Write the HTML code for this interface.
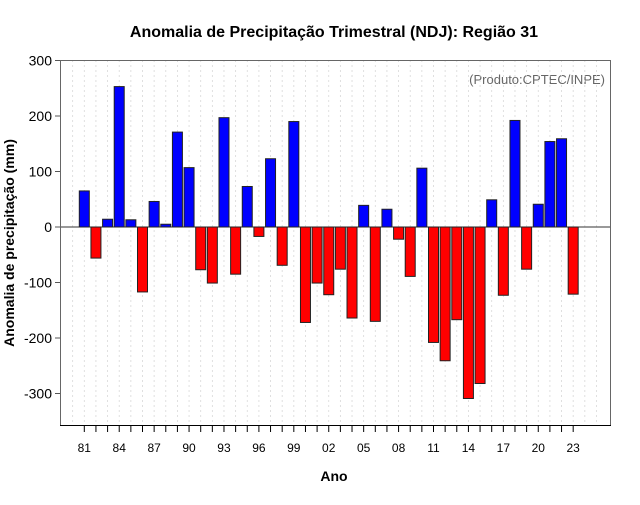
<!DOCTYPE html>
<html><head><meta charset="utf-8"><style>
body{margin:0;background:#fff;}
svg text{font-family:"Liberation Sans",sans-serif;}
</style></head><body>
<svg id="chart" width="640" height="500" xmlns="http://www.w3.org/2000/svg">
<rect width="640" height="500" fill="#fff"/>
<text x="334" y="37" text-anchor="middle" font-size="16" font-weight="bold">Anomalia de Precipitação Trimestral (NDJ): Região 31</text>
<text x="605" y="84" text-anchor="end" font-size="13" fill="#666">(Produto:CPTEC/INPE)</text>
<text x="334" y="481" text-anchor="middle" font-size="14" font-weight="bold">Ano</text>
<text transform="translate(14,243) rotate(-90)" text-anchor="middle" font-size="14" font-weight="bold">Anomalia de precipitação (mm)</text>
<g id="grid"></g><g id="bars"></g><g id="axes"></g>
<rect x="60.5" y="60.5" width="550" height="365" fill="none" stroke="#666" stroke-width="1"/>
<line x1="60" x2="611" y1="425.5" y2="425.5" stroke="#000"/>
</svg>
<script>
const years=[1981,1982,1983,1984,1985,1986,1987,1988,1989,1990,1991,1992,1993,1994,1995,1996,1997,1998,1999,2000,2001,2002,2003,2004,2005,2006,2007,2008,2009,2010,2011,2012,2013,2014,2015,2016,2017,2018,2019,2020,2021,2022,2023];
const anomalies=[65,-56,14,253,13,-117,46,5,171,107,-77,-101,197,-85,73,-17,123,-69,190,-172,-101,-122,-76,-164,39,-170,32,-22,-89,106,-208,-241,-167,-309,-282,49,-123,192,-76,41,154,159,-121];
const yTicks=[300,200,100,0,-100,-200,-300];
const xTickYears=[1981,1984,1987,1990,1993,1996,1999,2002,2005,2008,2011,2014,2017,2020,2023];
const NS="http://www.w3.org/2000/svg";
const X=y=>84.3+(y-1981)*11.64;
const Y=v=>227-v*0.555;
function mk(t,a,p){const e=document.createElementNS(NS,t);for(const k in a)e.setAttribute(k,a[k]);p.appendChild(e);return e;}
const grid=document.getElementById('grid'),bars=document.getElementById('bars'),axes=document.getElementById('axes');
for(let y=1980;y<=2025;y++){const x=X(y);if(x<=60||x>=610)continue;
 const l=mk('line',{x1:x,x2:x,y1:60,y2:425,stroke:'#d8d8d8','stroke-dasharray':'2,3','stroke-width':0.8},grid);
 
 }
const z=mk('line',{x1:60,x2:610,y1:Y(0),y2:Y(0),stroke:'#333','stroke-width':1},grid);


years.forEach((yr,i)=>{const v=anomalies[i];const top=Math.min(Y(v),Y(0));
 const r=mk('rect',{x:X(yr)-5,y:top,width:10,height:Math.abs(Y(v)-Y(0)),fill:v>=0?'#0000ff':'#ff0000',stroke:'#222','stroke-width':1},bars);
 
 });
yTicks.forEach(v=>{const y=Y(v);
 mk('line',{x1:55,x2:60,y1:y,y2:y,stroke:'#555'},axes);
 const t=mk('text',{x:52,y:y+5,'text-anchor':'end','font-size':14},axes);t.textContent=v;
 
 });
years.forEach(yr=>{const x=X(yr);
 mk('line',{x1:x,x2:x,y1:425,y2:432,stroke:'#000'},axes);});
xTickYears.forEach(yr=>{const x=X(yr);
 const t=mk('text',{x:x,y:452,'text-anchor':'middle','font-size':12},axes);t.textContent=String(yr%100).padStart(2,'0');
 
 });
</script>
</body></html>
